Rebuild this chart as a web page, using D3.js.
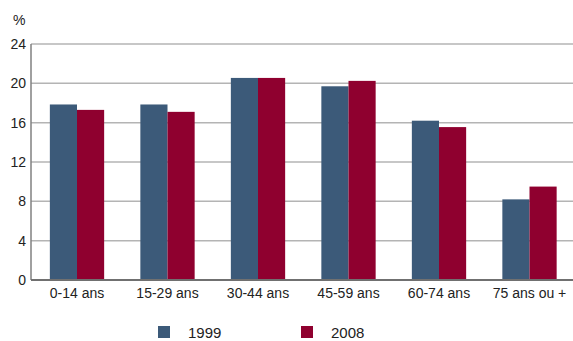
<!DOCTYPE html>
<html>
<head>
<meta charset="utf-8">
<script src="https://cdn.jsdelivr.net/npm/d3@7"></script>
<style>
  body { margin: 0; background: #fff; }
  svg { display: block; font-family: Arial, "Liberation Sans", sans-serif; }
</style>
</head>
<body>
<svg id="chart" width="573" height="341"></svg>
<script>
const categories = ['0-14 ans', '15-29 ans', '30-44 ans', '45-59 ans', '60-74 ans', '75 ans ou +']
const seriesNames = ['1999', '2008']
const values1999 = [17.85, 17.85, 20.55, 19.7, 16.2, 8.2]
const values2008 = [17.3, 17.1, 20.55, 20.25, 15.55, 9.5]
const yTicks = [0, 4, 8, 12, 16, 20, 24]
const colors = ['#3c5a79', '#8f002f']

const svg = d3.select('#chart')
const margin = { top: 44, right: 0, bottom: 61, left: 31 }
const width = 573
const height = 341

// bands run a touch past the right edge, as in the original
const x = d3.scaleBand()
  .domain(categories)
  .range([margin.left + 0.75, width + 1.75])
  .paddingInner(0.4)
  .paddingOuter(0.2)

const xSub = d3.scaleBand()
  .domain(seriesNames)
  .range([0, x.bandwidth()])

const y = d3.scaleLinear()
  .domain([0, 24])
  .range([height - margin.bottom, margin.top])

// gridlines
svg.append('g')
  .selectAll('line')
  .data(yTicks.filter(d => d > 0))
  .enter()
  .append('line')
  .attr('x1', margin.left)
  .attr('x2', width)
  .attr('y1', d => y(d))
  .attr('y2', d => y(d))
  .style('stroke', '#b4b4b4')
  .style('stroke-width', 1.5)

// bars
const rows = categories.map((c, i) => ({ cat: c, vals: [values1999[i], values2008[i]] }))

const groups = svg.append('g')
  .selectAll('g')
  .data(rows)
  .enter()
  .append('g')
  .attr('transform', d => `translate(${x(d.cat)},0)`)

groups.selectAll('rect')
  .data(d => d.vals.map((v, j) => ({ key: seriesNames[j], v: v, j: j })))
  .enter()
  .append('rect')
  .attr('x', d => xSub(d.key))
  .attr('width', xSub.bandwidth())
  .attr('y', d => y(d.v))
  .attr('height', d => y(0) - y(d.v))
  .attr('fill', d => colors[d.j])

// axes lines
svg.append('line')
  .attr('x1', margin.left).attr('x2', margin.left)
  .attr('y1', y(24)).attr('y2', y(0))
  .style('stroke', '#808080')
  .style('stroke-width', 1.5)

svg.append('line')
  .attr('x1', margin.left).attr('x2', width)
  .attr('y1', y(0)).attr('y2', y(0))
  .style('stroke', '#707070')
  .style('stroke-width', 2)

// y tick labels
svg.append('g')
  .selectAll('text')
  .data(yTicks)
  .enter()
  .append('text')
  .attr('x', 26)
  .attr('y', d => y(d))
  .attr('dy', '0.36em')
  .attr('text-anchor', 'end')
  .style('font-size', '14px')
  .style('fill', '#222')
  .text(d => d)

svg.append('text')
  .attr('x', 13)
  .attr('y', 25)
  .style('font-size', '14px')
  .style('fill', '#222')
  .text('%')

// x labels
svg.append('g')
  .selectAll('text')
  .data(categories)
  .enter()
  .append('text')
  .attr('x', d => x(d) + x.bandwidth() / 2)
  .attr('y', 298)
  .attr('text-anchor', 'middle')
  .style('font-size', '14px')
  .style('fill', '#222')
  .text(d => d)

// legend
const legendX = [158, 301]
const legend = svg.append('g')
  .selectAll('g')
  .data(seriesNames)
  .enter()
  .append('g')
  .attr('transform', (d, i) => `translate(${legendX[i]},326)`)

legend.append('rect')
  .attr('width', 12)
  .attr('height', 12)
  .attr('fill', (d, i) => colors[i])

legend.append('text')
  .attr('x', 30)
  .attr('y', 12)
  .style('font-size', '15px')
  .style('fill', '#222')
  .text(d => d)
</script>
</body>
</html>
